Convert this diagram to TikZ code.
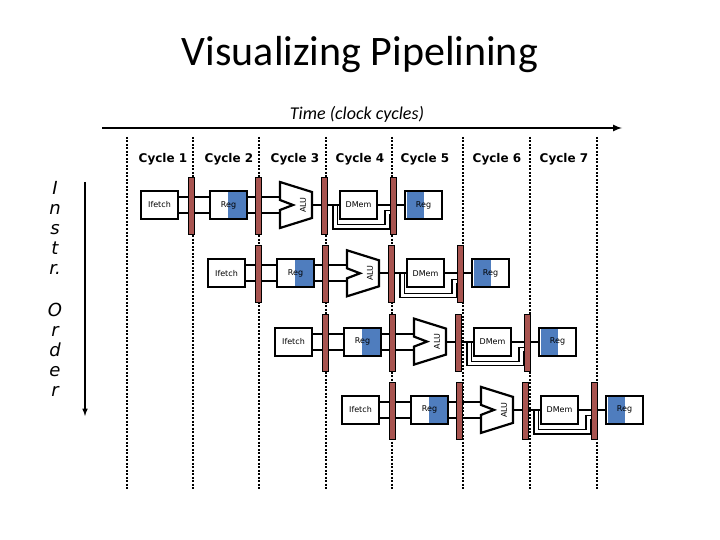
\documentclass[tikz,border=0pt]{standalone}
\usepackage{fontspec}
\setmainfont{DejaVu Sans}
\newfontfamily\titlefont{Carlito}
\begin{document}
\begin{tikzpicture}[x=1pt,y=-1pt,
  wire/.style={line width=2.2pt},
  box/.style={draw,line width=2.2pt,fill=white,minimum width=37pt,minimum height=28pt,inner sep=0pt,font=\fontsize{8}{8}\selectfont},
  preg/.style={draw,line width=1pt,fill=regred,minimum width=6pt,minimum height=57pt,inner sep=0pt},
  cyc/.style={font=\bfseries\fontsize{12}{12}\selectfont},
  vdash/.style={line width=2.2pt,dash pattern=on 2pt off 1.5pt},
  side/.style={font=\fontsize{18}{20}\selectfont\itshape,align=center}]
\definecolor{regred}{HTML}{A85450}
\definecolor{regblue}{HTML}{4F7DBE}
\useasboundingbox (0,0) rectangle (720,540);
\node[font=\titlefont\fontsize{42}{42}\selectfont] (title) at (360,55) {Visualizing Pipelining};
\node[font=\titlefont\itshape\fontsize{18}{18}\selectfont] (time) at (357,114) {Time (clock cycles)};
\coordinate (t0) at (102,128); \coordinate (t1) at (622,128);
\draw[line width=2pt,-latex] (t0) -- (t1);
\foreach \x [count=\i] in {127,193,259,326,392,463,530,597}{
  \coordinate (dtop\i) at (\x,137); \coordinate (dbot\i) at (\x,490);
  \draw[vdash] (dtop\i) -- (dbot\i);}
\foreach \x/\n [count=\i] in {163/1,229/2,295/3,360/4,425/5,497/6,564/7}
  \node[cyc] (cy\i) at (\x,159) {Cycle \n};
\node[side] (instr) at (55,228) {I\\n\\s\\t\\r.};
\node[side] (order) at (55,350) {O\\r\\d\\e\\r};
\coordinate (o0) at (85,182); \coordinate (o1) at (85,416);
\draw[line width=1.5pt,-latex] (o0) -- (o1);
\foreach \k in {0,1,2,3}{
  \pgfmathsetmacro{\L}{141+67*\k}
  \pgfmathsetmacro{\c}{205+68.3*\k}
  \draw[wire] (\L+30,\c-8) -- (\L+80,\c-8) (\L+30,\c+8) -- (\L+80,\c+8);
  \draw[wire] (\L+100,\c-8) -- (\L+142,\c-8) (\L+100,\c+8) -- (\L+142,\c+8);
  \draw[wire] (\L+165,\c) -- (\L+210,\c);
  \draw[wire] (\L+230,\c) -- (\L+270,\c);
  \draw[line width=1.2pt,double,double distance=3pt] (\L+194,\c+1) -- (\L+194,\c+22) -- (\L+246,\c+22) -- (\L+246,\c+8) -- (\L+252,\c+8);
  \node[box] (if\k) at (\L+18.5,\c) {Ifetch};
  \fill[white] (\L+69,\c-14) rectangle (\L+106,\c+14);
  \fill[regblue] (\L+87,\c-13) rectangle (\L+105,\c+13);
  \node[box,fill=none] (rg\k) at (\L+87.5,\c) {Reg};
  \draw[line width=2.2pt,fill=white] (\L+139,\c-23) -- (\L+171,\c-13) -- (\L+171,\c+13) -- (\L+139,\c+23) -- (\L+139,\c+5) -- (\L+152,\c) -- (\L+139,\c-5) -- cycle;
  \node[rotate=90,font=\fontsize{8}{8}\selectfont] (alu\k) at (\L+162,\c) {ALU};
  \node[box] (dm\k) at (\L+217.5,\c) {DMem};
  \fill[white] (\L+264,\c-14) rectangle (\L+301,\c+14);
  \fill[regblue] (\L+266,\c-13) rectangle (\L+283,\c+13);
  \node[box,fill=none] (wb\k) at (\L+282.5,\c) {Reg};
  \foreach \o/\n in {50/a,117/b,183/c,252/d}
    \node[preg] (p\n\k) at (\L+\o,\c+1) {};
}
\end{tikzpicture}
\end{document}
